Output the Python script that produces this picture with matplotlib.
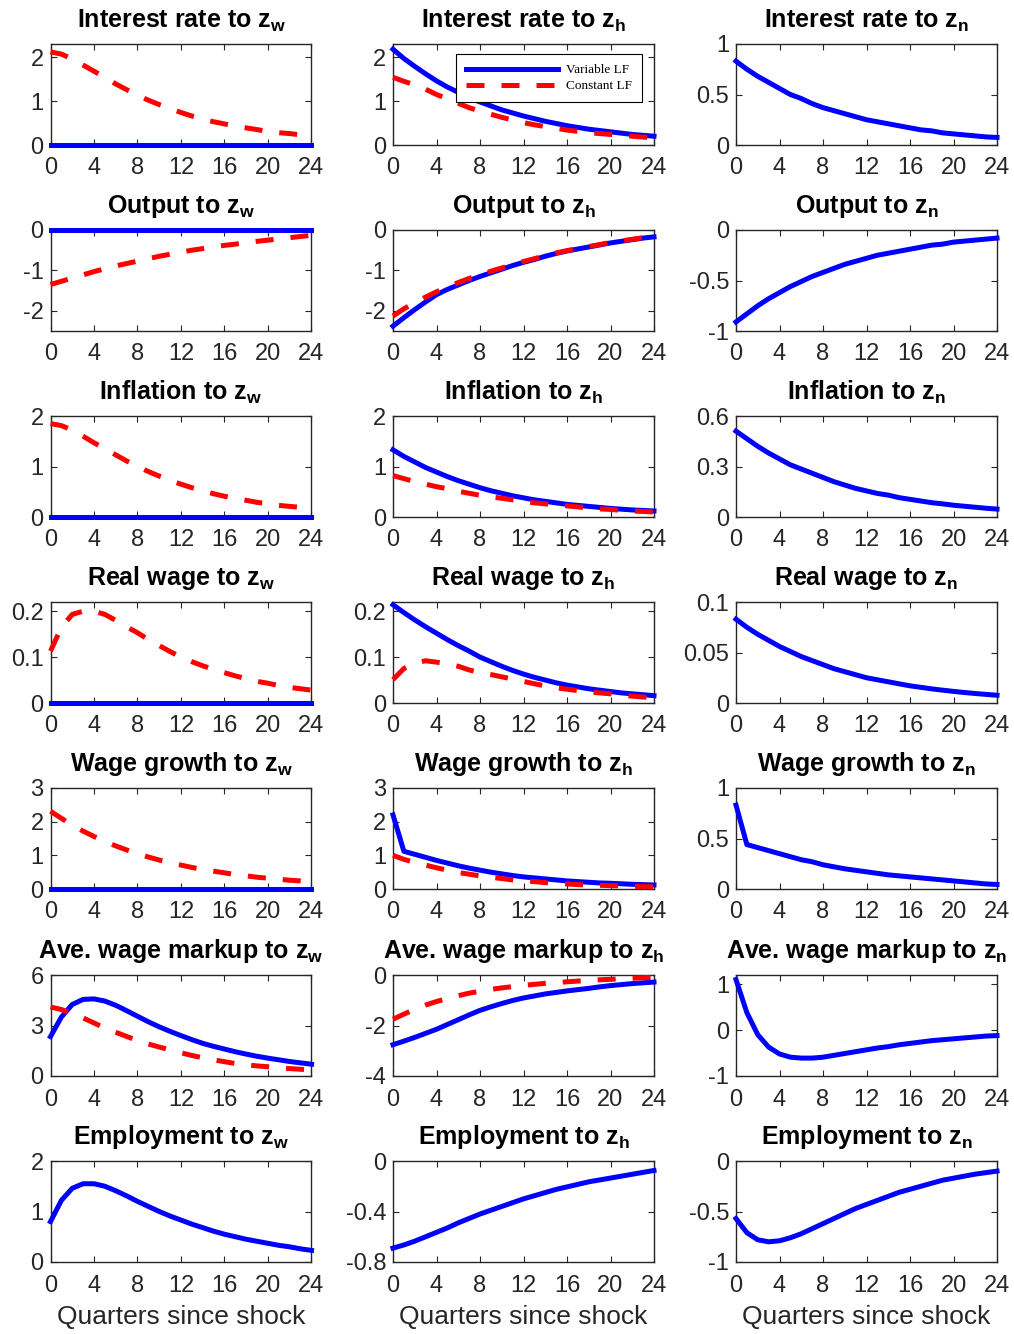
import numpy as np
import matplotlib
matplotlib.use("Agg")
import matplotlib.pyplot as plt

plt.rcParams['font.family'] = 'Liberation Sans'
plt.rcParams['mathtext.fontset'] = 'custom'
plt.rcParams['mathtext.rm'] = 'Liberation Sans'
plt.rcParams['mathtext.bf'] = 'Liberation Sans:bold'
plt.rcParams['axes.unicode_minus'] = False

quarters = np.arange(25)
shocks = ['w', 'h', 'n']
variables = ['Interest rate', 'Output', 'Inflation', 'Real wage',
             'Wage growth', 'Ave. wage markup', 'Employment']
zeros = [0.0] * 25

# interest rate
ir_zw_c = [2.12, 2.07, 1.96, 1.82, 1.68, 1.54, 1.39, 1.26, 1.13, 1.02, 0.92, 0.83, 0.74,
           0.66, 0.59, 0.53, 0.48, 0.43, 0.39, 0.35, 0.31, 0.28, 0.26, 0.23, 0.21]
ir_zh_v = [2.18, 1.97, 1.79, 1.62, 1.46, 1.32, 1.20, 1.08, 0.98, 0.89, 0.80, 0.73, 0.66,
           0.60, 0.54, 0.49, 0.44, 0.40, 0.36, 0.33, 0.30, 0.27, 0.24, 0.22, 0.20]
ir_zh_c = [1.54, 1.45, 1.37, 1.27, 1.15, 1.05, 0.95, 0.85, 0.77, 0.70, 0.63, 0.57, 0.51,
           0.46, 0.42, 0.38, 0.34, 0.31, 0.28, 0.26, 0.24, 0.22, 0.20, 0.18, 0.16]
ir_zn_v = [0.83, 0.75, 0.68, 0.62, 0.56, 0.50, 0.46, 0.41, 0.37, 0.34, 0.31, 0.28, 0.25,
           0.23, 0.21, 0.19, 0.17, 0.15, 0.14, 0.12, 0.11, 0.10, 0.09, 0.08, 0.075]

# output
y_zw_c = [-1.35, -1.27, -1.19, -1.11, -1.03, -0.96, -0.89, -0.83, -0.77, -0.71, -0.65, -0.60, -0.55,
          -0.50, -0.46, -0.42, -0.38, -0.35, -0.31, -0.28, -0.25, -0.22, -0.19, -0.16, -0.13]
y_zh_v = [-2.38, -2.17, -1.97, -1.78, -1.60, -1.47, -1.36, -1.25, -1.15, -1.06, -0.97, -0.88, -0.80,
          -0.73, -0.65, -0.58, -0.52, -0.47, -0.42, -0.37, -0.32, -0.28, -0.24, -0.20, -0.17]
y_zh_c = [-2.13, -1.95, -1.80, -1.66, -1.53, -1.41, -1.30, -1.20, -1.11, -1.02, -0.94, -0.86, -0.78,
          -0.71, -0.64, -0.57, -0.51, -0.46, -0.41, -0.36, -0.31, -0.27, -0.23, -0.19, -0.16]
y_zn_v = [-0.91, -0.83, -0.75, -0.68, -0.62, -0.56, -0.51, -0.46, -0.42, -0.38, -0.34, -0.31, -0.28,
          -0.25, -0.23, -0.21, -0.19, -0.17, -0.15, -0.14, -0.12, -0.11, -0.10, -0.09, -0.08]

# inflation
pi_zw_c = [1.85, 1.81, 1.72, 1.60, 1.47, 1.35, 1.23, 1.11, 1.00, 0.90, 0.81, 0.72, 0.65,
           0.58, 0.52, 0.46, 0.41, 0.37, 0.33, 0.29, 0.26, 0.23, 0.21, 0.19, 0.17]
pi_zh_v = [1.33, 1.20, 1.09, 0.98, 0.89, 0.80, 0.72, 0.65, 0.58, 0.52, 0.47, 0.42, 0.38,
           0.34, 0.31, 0.28, 0.25, 0.23, 0.21, 0.19, 0.17, 0.155, 0.14, 0.13, 0.12]
pi_zh_c = [0.82, 0.76, 0.70, 0.65, 0.60, 0.56, 0.51, 0.47, 0.43, 0.40, 0.37, 0.34, 0.31,
           0.28, 0.26, 0.24, 0.22, 0.20, 0.18, 0.16, 0.15, 0.13, 0.12, 0.11, 0.10]
pi_zn_v = [0.51, 0.465, 0.42, 0.38, 0.345, 0.31, 0.285, 0.26, 0.235, 0.21, 0.19, 0.17, 0.155,
           0.14, 0.13, 0.115, 0.105, 0.095, 0.085, 0.078, 0.07, 0.064, 0.058, 0.052, 0.047]

# real wage
rw_zw_c = [0.113, 0.165, 0.193, 0.200, 0.200, 0.193, 0.180, 0.166, 0.153, 0.138, 0.125, 0.112, 0.100,
           0.090, 0.081, 0.073, 0.066, 0.059, 0.053, 0.047, 0.043, 0.038, 0.034, 0.031, 0.028]
rw_zh_v = [0.214, 0.197, 0.181, 0.166, 0.152, 0.138, 0.125, 0.113, 0.100, 0.090, 0.080, 0.071, 0.063,
           0.056, 0.050, 0.044, 0.039, 0.035, 0.031, 0.028, 0.025, 0.022, 0.020, 0.018, 0.016]
rw_zh_c = [0.051, 0.075, 0.087, 0.092, 0.089, 0.085, 0.080, 0.072, 0.066, 0.062, 0.057, 0.052, 0.047,
           0.042, 0.037, 0.033, 0.030, 0.027, 0.024, 0.022, 0.020, 0.017, 0.015, 0.013, 0.011]
rw_zn_v = [0.083, 0.075, 0.068, 0.062, 0.056, 0.051, 0.046, 0.042, 0.038, 0.034, 0.031, 0.028, 0.025,
           0.023, 0.021, 0.019, 0.017, 0.0155, 0.014, 0.0127, 0.0115, 0.0104, 0.0094, 0.0085, 0.0077]

# wage growth
wg_zw_c = [2.31, 2.10, 1.90, 1.72, 1.56, 1.41, 1.28, 1.16, 1.05, 0.95, 0.86, 0.78, 0.71,
           0.64, 0.58, 0.53, 0.48, 0.43, 0.39, 0.35, 0.32, 0.29, 0.26, 0.24, 0.21]
wg_zh_v = [2.20, 1.12, 1.03, 0.94, 0.85, 0.77, 0.69, 0.62, 0.56, 0.50, 0.45, 0.40, 0.36,
           0.33, 0.30, 0.27, 0.24, 0.22, 0.20, 0.18, 0.17, 0.155, 0.14, 0.13, 0.12]
wg_zh_c = [1.00, 0.88, 0.79, 0.71, 0.63, 0.56, 0.49, 0.44, 0.39, 0.35, 0.31, 0.27, 0.24,
           0.22, 0.19, 0.17, 0.15, 0.13, 0.12, 0.11, 0.10, 0.09, 0.08, 0.07, 0.065]
wg_zn_v = [0.83, 0.44, 0.41, 0.38, 0.35, 0.32, 0.29, 0.27, 0.24, 0.22, 0.20, 0.185, 0.17,
           0.155, 0.14, 0.13, 0.12, 0.11, 0.10, 0.09, 0.08, 0.07, 0.06, 0.05, 0.045]

# average wage markup
mk_zw_v = [2.34, 3.50, 4.25, 4.55, 4.58, 4.45, 4.20, 3.88, 3.55, 3.22, 2.92, 2.65, 2.40,
           2.16, 1.94, 1.76, 1.60, 1.44, 1.30, 1.17, 1.06, 0.96, 0.86, 0.78, 0.70]
mk_zw_c = [4.10, 3.95, 3.70, 3.45, 3.15, 2.85, 2.60, 2.35, 2.10, 1.90, 1.72, 1.55, 1.38,
           1.22, 1.08, 0.96, 0.85, 0.74, 0.66, 0.60, 0.55, 0.49, 0.44, 0.40, 0.36]
mk_zh_v = [-2.76, -2.62, -2.47, -2.31, -2.15, -1.96, -1.77, -1.58, -1.40, -1.26, -1.13, -1.01, -0.91,
           -0.83, -0.75, -0.69, -0.63, -0.58, -0.53, -0.47, -0.42, -0.38, -0.34, -0.31, -0.28]
mk_zh_c = [-1.75, -1.55, -1.36, -1.19, -1.05, -0.93, -0.82, -0.72, -0.64, -0.57, -0.51, -0.46, -0.41,
           -0.37, -0.33, -0.30, -0.27, -0.24, -0.21, -0.19, -0.17, -0.15, -0.13, -0.11, -0.10]
mk_zn_v = [1.10, 0.38, -0.10, -0.37, -0.52, -0.59, -0.61, -0.61, -0.59, -0.55, -0.51, -0.47, -0.43,
           -0.39, -0.36, -0.32, -0.29, -0.26, -0.23, -0.21, -0.19, -0.17, -0.15, -0.13, -0.12]

# employment
n_zw_v = [0.80, 1.22, 1.46, 1.55, 1.55, 1.50, 1.41, 1.31, 1.20, 1.10, 1.00, 0.91, 0.83,
          0.75, 0.68, 0.61, 0.55, 0.50, 0.45, 0.41, 0.37, 0.33, 0.30, 0.26, 0.23]
n_zh_v = [-0.69, -0.665, -0.635, -0.60, -0.565, -0.53, -0.49, -0.455, -0.42, -0.39, -0.36, -0.33, -0.30,
          -0.275, -0.25, -0.225, -0.205, -0.185, -0.165, -0.15, -0.135, -0.12, -0.105, -0.09, -0.075]
n_zn_v = [-0.57, -0.71, -0.78, -0.80, -0.79, -0.76, -0.72, -0.67, -0.62, -0.57, -0.52, -0.47, -0.43,
          -0.39, -0.35, -0.31, -0.28, -0.25, -0.22, -0.19, -0.17, -0.15, -0.13, -0.115, -0.10]

# (variable LF, constant LF) per row and shock
series = [
    [(zeros, ir_zw_c), (ir_zh_v, ir_zh_c), (ir_zn_v, None)],
    [(zeros, y_zw_c), (y_zh_v, y_zh_c), (y_zn_v, None)],
    [(zeros, pi_zw_c), (pi_zh_v, pi_zh_c), (pi_zn_v, None)],
    [(zeros, rw_zw_c), (rw_zh_v, rw_zh_c), (rw_zn_v, None)],
    [(zeros, wg_zw_c), (wg_zh_v, wg_zh_c), (wg_zn_v, None)],
    [(mk_zw_v, mk_zw_c), (mk_zh_v, mk_zh_c), (mk_zn_v, None)],
    [(n_zw_v, None), (n_zh_v, None), (n_zn_v, None)],
]

ylims = [
    [(0, 2.3), (0, 2.3), (0, 1)],
    [(-2.5, 0), (-2.5, 0), (-1, 0)],
    [(0, 2), (0, 2), (0, 0.6)],
    [(0, 0.22), (0, 0.22), (0, 0.1)],
    [(0, 3), (0, 3), (0, 1)],
    [(0, 6), (-4, 0), (-1, 1.2)],
    [(0, 2), (-0.8, 0), (-1, 0)],
]
yticks = [
    [[0, 1, 2], [0, 1, 2], [0, 0.5, 1]],
    [[-2, -1, 0], [-2, -1, 0], [-1, -0.5, 0]],
    [[0, 1, 2], [0, 1, 2], [0, 0.3, 0.6]],
    [[0, 0.1, 0.2], [0, 0.1, 0.2], [0, 0.05, 0.1]],
    [[0, 1, 2, 3], [0, 1, 2, 3], [0, 0.5, 1]],
    [[0, 3, 6], [-4, -2, 0], [-1, 0, 1]],
    [[0, 1, 2], [-0.8, -0.4, 0], [-1, -0.5, 0]],
]

W, H = 1014, 1334
col_left = [50.5, 393, 736]
row_top = [44, 230, 416, 602, 788, 975, 1161]
aw, ah = 261, 101
txt = '#262626'

fig = plt.figure(figsize=(10.14, 13.34), dpi=100)

for i, var in enumerate(variables):
    for j, s in enumerate(shocks):
        ax = fig.add_axes([col_left[j] / W, 1 - (row_top[i] + ah) / H, aw / W, ah / H])
        v, c = series[i][j]
        lv, = ax.plot(quarters, v, color='#0000ff', lw=3.6, clip_on=False, zorder=3)
        if c is not None:
            lc, = ax.plot(quarters, c, color='#ff0000', lw=3.6, dashes=(3.6, 3.4),
                          clip_on=False, zorder=4)
        ax.set_xlim(0, 24)
        ax.set_ylim(*ylims[i][j])
        ax.set_xticks(range(0, 25, 4))
        ax.set_yticks(yticks[i][j])
        ax.set_yticklabels(['%g' % t for t in yticks[i][j]])
        ax.tick_params(direction='in', length=4, width=0.8, top=True, right=True,
                       labelsize=17, colors=txt, pad=5)
        ax.tick_params(axis='x', pad=9)
        for sp in ax.spines.values():
            sp.set_color(txt)
            sp.set_linewidth(1.0)
        ax.set_title(var + ' to z' + r'$_\mathbf{' + s + '}$', fontsize=18,
                     fontweight='bold', pad=12)
        if i == len(variables) - 1:
            ax.set_xlabel('Quarters since shock', fontsize=19, color=txt, labelpad=6)
        if i == 0 and j == 1:
            leg = ax.legend([lv, lc], ['Variable LF', 'Constant LF'],
                            loc='upper right', bbox_to_anchor=(0.954, 0.90),
                            borderaxespad=0,
                            prop={'family': 'Liberation Serif', 'size': 9.5},
                            handlelength=7, labelspacing=0.3, borderpad=0.75,
                            handletextpad=0.6, fancybox=False, framealpha=1,
                            edgecolor='black')
            leg.get_frame().set_linewidth(0.8)

fig.savefig('out.png', dpi=100)
